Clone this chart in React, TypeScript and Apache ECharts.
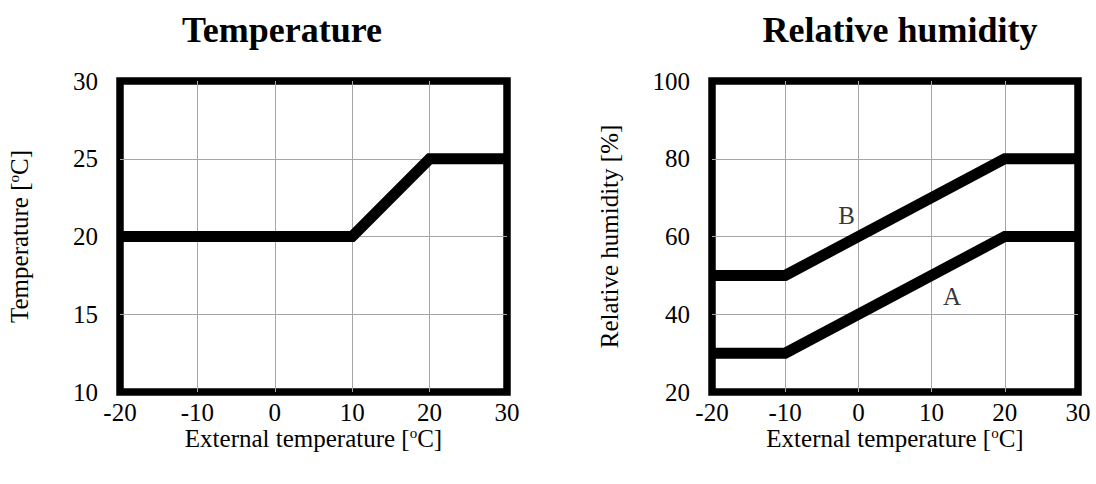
import React, { useEffect, useRef } from "react";
import * as echarts from "echarts";

const xTicks = [-20, -10, 0, 10, 20, 30];
const tempSeries: [number, number][] = [[-20, 20], [10, 20], [20, 25], [30, 25]];
const humB: [number, number][] = [[-20, 50], [-10, 50], [20, 80], [30, 80]];
const humA: [number, number][] = [[-20, 30], [-10, 30], [20, 60], [30, 60]];
const curveLabels: [number, number, string][] = [[-1.6, 65.5, "B"], [12.8, 44.5, "A"]];
const titles = ["Temperature", "Relative humidity"];
const xName = "External temperature [{sup|o}C]";
const yNames = ["Temperature [{sup|o}C]", "Relative humidity [%]"];

const FONT = "Liberation Serif";

export default function App() {
  const ref = useRef<HTMLDivElement>(null);
  useEffect(() => {
    if (!ref.current) return;
    const chart = echarts.init(ref.current, undefined, { renderer: "svg" });
    const nameStyle = {
      fontFamily: FONT,
      fontSize: 25,
      color: "#000",
      lineHeight: 26,
      rich: {
        sup: { fontFamily: FONT, fontSize: 15, color: "#000", verticalAlign: "top", lineHeight: 24 },
      },
    };
    const labelStyle = { fontFamily: FONT, fontSize: 25, color: "#000", lineHeight: 22 };
    const splitLine = { show: true, showMinLine: false, showMaxLine: false, lineStyle: { color: "#a6a6a6", width: 1 } };
    const mkX = (gi: number) => ({
      type: "value",
      gridIndex: gi,
      min: xTicks[0],
      max: xTicks[xTicks.length - 1],
      interval: 10,
      axisLine: { show: false },
      axisTick: { show: false },
      splitLine,
      axisLabel: { ...labelStyle, margin: 9 },
      name: xName,
      nameLocation: "middle",
      nameGap: 33,
      nameMoveOverlap: false,
      nameTextStyle: nameStyle,
    });
    const mkY = (gi: number, min: number, max: number, interval: number, gap: number) => ({
      type: "value",
      gridIndex: gi,
      min,
      max,
      interval,
      axisLine: { show: false },
      axisTick: { show: false },
      splitLine,
      axisLabel: { ...labelStyle, margin: 22 },
      name: yNames[gi],
      nameLocation: "middle",
      nameGap: gap,
      nameMoveOverlap: false,
      nameTextStyle: nameStyle,
    });
    const lineStyle = { color: "#000", width: 11, cap: "butt", join: "miter" };
    const titleStyle = { fontFamily: FONT, fontSize: 36, fontWeight: "bold", color: "#000" };
    chart.setOption({
      animation: false,
      backgroundColor: "#fff",
      title: [
        { text: titles[0], left: 277, top: 7, textAlign: "center", textStyle: titleStyle },
        { text: titles[1], left: 895, top: 7, textAlign: "center", textStyle: titleStyle },
      ],
      grid: [
        { left: 120, top: 81, width: 387, height: 311, show: true, borderColor: "#000", borderWidth: 7.5, backgroundColor: "transparent" },
        { left: 712, top: 81, width: 366, height: 311, show: true, borderColor: "#000", borderWidth: 7.5, backgroundColor: "transparent" },
      ],
      xAxis: [mkX(0), mkX(1)],
      yAxis: [mkY(0, 10, 30, 5, 88), mkY(1, 20, 100, 20, 90)],
      series: [
        { type: "line", xAxisIndex: 0, yAxisIndex: 0, data: tempSeries, symbol: "none", lineStyle },
        { type: "line", xAxisIndex: 1, yAxisIndex: 1, data: humB, symbol: "none", lineStyle },
        { type: "line", xAxisIndex: 1, yAxisIndex: 1, data: humA, symbol: "none", lineStyle },
        {
          type: "scatter",
          xAxisIndex: 1,
          yAxisIndex: 1,
          data: curveLabels,
          symbolSize: 0,
          label: {
            show: true,
            position: "inside",
            formatter: (p: any) => p.value[2],
            fontFamily: FONT,
            fontSize: 25,
            color: "#000",
          },
        },
      ],
    });
    return () => chart.dispose();
  }, []);
  return (
    <div
      ref={ref}
      style={{ position: "fixed", left: 0, top: 0, width: 1096, height: 484, background: "#fff" }}
    />
  );
}
